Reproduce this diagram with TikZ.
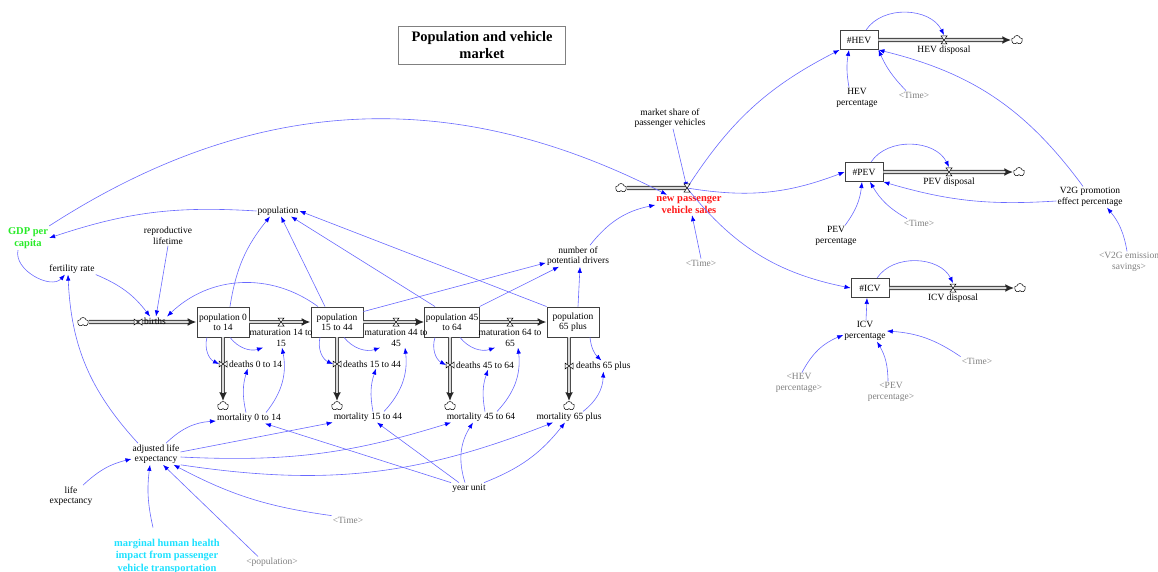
\documentclass[tikz,border=0pt]{standalone}
\usepackage{fontspec}
\setmainfont{Liberation Serif}
\usetikzlibrary{arrows.meta,shapes.symbols}

\definecolor{linkblue}{RGB}{105,105,255}
\definecolor{salesred}{RGB}{255,25,25}
\definecolor{gdpgreen}{RGB}{40,235,40}
\definecolor{healthcyan}{RGB}{30,225,255}

\tikzset{
  bowtie/.pic={\draw[fill=white,line width=0.5pt] (-4,-3) -- (4,3) -- (4,-3) -- (-4,3) -- cycle;},
  hourglass/.pic={\draw[fill=white,line width=0.5pt] (-3,-4) -- (3,4) -- (-3,4) -- (3,-4) -- cycle;}
}

\begin{document}
\begin{tikzpicture}[x=1pt,y=-1pt,>={Latex[length=6pt,width=4.5pt,color=blue]}]
        \tikzstyle{every node}=[font=\fontsize{9.5}{10.5}\selectfont]
        \tikzstyle{var}=[inner sep=1pt,align=center]
        \tikzstyle{shadowvar}=[var,text=gray]
        \tikzstyle{boldvar}=[var,font=\bfseries\fontsize{10.5}{12.5}\selectfont]
        \tikzstyle{stock}=[draw=black!75,line width=0.9pt,fill=white,minimum width=52pt,minimum height=30pt,inner sep=1pt,align=center]
        \tikzstyle{smallstock}=[stock,minimum width=38pt,minimum height=19pt]
        \tikzstyle{sinkcloud}=[cloud,cloud puffs=5,cloud puff arc=150,aspect=1.2,draw,fill=white,line width=0.5pt,inner sep=0pt,minimum width=11pt,minimum height=9pt]
        \tikzstyle{link}=[->,draw=linkblue,line width=0.6pt]
        \tikzstyle{pipe}=[line width=1.9pt,draw=gray!30,shorten >=8pt,preaction={draw=black!70,line width=4.2pt,shorten >=0pt,-{Latex[length=9pt,width=8pt,color=black!85]}}]
        \tikzstyle{pipeplain}=[line width=1.9pt,draw=gray!30,preaction={draw=black!70,line width=4.2pt}]
        \useasboundingbox (0,0) rectangle (1158,572);

        \node[draw=gray,line width=0.8pt,minimum width=167pt,minimum height=38pt,align=center,font=\bfseries\fontsize{14.5}{17}\selectfont] (title) at (482,45) {Population and vehicle\\market};

        % stocks
        \node[stock] (p014) at (223,322) {population 0\\to 14};
        \node[stock] (p1544) at (337,322) {population\\15 to 44};
        \node[stock] (p4564) at (452,322) {population 45\\to 64};
        \node[stock] (p65) at (573,322) {population\\65 plus};
        \node[smallstock] (hev) at (859,40) {\#HEV};
        \node[smallstock] (pev) at (864,172) {\#PEV};
        \node[smallstock] (icv) at (870,288) {\#ICV};

        % sources and sinks
        \node[sinkcloud] (sb) at (83,322) {};
        \node[sinkcloud] (s014) at (223,406) {};
        \node[sinkcloud] (s1544) at (337,406) {};
        \node[sinkcloud] (s4564) at (450,406) {};
        \node[sinkcloud] (s65) at (569,406) {};
        \node[sinkcloud] (sn) at (621,188) {};
        \node[sinkcloud] (sh) at (1017,40) {};
        \node[sinkcloud] (sp) at (1019,172) {};
        \node[sinkcloud] (si) at (1020,288) {};

        % valves
        \coordinate (vb) at (138,322);
        \coordinate (vm1) at (281,322);
        \coordinate (vm2) at (396,322);
        \coordinate (vm3) at (510,322);
        \coordinate (vd1) at (223,364);
        \coordinate (vd2) at (337,364);
        \coordinate (vd3) at (450,365);
        \coordinate (vd4) at (569,366);
        \coordinate (vn) at (687,188);
        \coordinate (vh) at (944,40);
        \coordinate (vp) at (949,172);
        \coordinate (vi) at (953,288);

        \draw[pipe] (sb) -- (p014);
        \draw[pipe] (p014) -- (p1544);
        \draw[pipe] (p1544) -- (p4564);
        \draw[pipe] (p4564) -- (p65);
        \draw[pipe] (p014) -- (s014);
        \draw[pipe] (p1544) -- (s1544);
        \draw[pipe] (s4564 |- p4564.south) -- (s4564);
        \draw[pipe] (s65 |- p65.south) -- (s65);
        \draw[pipeplain] (sn) -- (vn);
        \draw[pipe] (hev) -- (sh);
        \draw[pipe] (pev) -- (sp);
        \draw[pipe] (icv) -- (si);

        % flows
        \node[var,anchor=west] (births) at (143,321) {births};
        \node[var] (mat1) at (281,338) {maturation 14 to\\15};
        \node[var] (mat2) at (396,338) {maturation 44 to\\45};
        \node[var] (mat3) at (510,338) {maturation 64 to\\65};
        \node[var,anchor=west] (d1) at (228,364) {deaths 0 to 14};
        \node[var,anchor=west] (d2) at (342,364) {deaths 15 to 44};
        \node[var,anchor=west] (d3) at (455,365) {deaths 45 to 64};
        \node[var,anchor=west] (d4) at (575,366) {deaths 65 plus};
        \node[boldvar,text=salesred] (nps) at (689,205) {new passenger\\vehicle sales};
        \node[var] (hevd) at (944,50) {HEV disposal};
        \node[var] (pevd) at (949,182) {PEV disposal};
        \node[var] (icvd) at (953,298) {ICV disposal};

        % auxiliaries
        \node[var] (popall) at (278,211) {population};
        \node[boldvar,text=gdpgreen] (gdp) at (28,238) {GDP per\\capita};
        \node[var] (fert) at (72,269) {fertility rate};
        \node[var] (repro) at (168,236) {reproductive\\lifetime};
        \node[var] (npd) at (578,256) {number of\\potential drivers};
        \node[var] (share) at (670,118) {market share of\\passenger vehicles};
        \node[shadowvar] (timen) at (701,263) {\textless Time\textgreater};
        \node[var] (hevpc) at (857,98) {HEV\\percentage};
        \node[shadowvar] (timeh) at (914,95) {\textless Time\textgreater};
        \node[var] (pevpc) at (836,236) {PEV\\percentage};
        \node[shadowvar] (timep) at (919,223) {\textless Time\textgreater};
        \node[var] (v2g) at (1090,197) {V2G promotion\\effect percentage};
        \node[shadowvar] (v2gsav) at (1129,262) {\textless V2G emission\\savings\textgreater};
        \node[var] (icvpc) at (865,331) {ICV\\percentage};
        \node[shadowvar] (timei) at (977,361) {\textless Time\textgreater};
        \node[shadowvar] (hevpcs) at (799,383) {\textless HEV\\percentage\textgreater};
        \node[shadowvar] (pevpcs) at (891,392) {\textless PEV\\percentage\textgreater};
        \node[var] (m1) at (249,418) {mortality 0 to 14};
        \node[var] (m2) at (368,417) {mortality 15 to 44};
        \node[var] (m3) at (481,417) {mortality 45 to 64};
        \node[var] (m4) at (569,417) {mortality 65 plus};
        \node[var] (yu) at (469,488) {year unit};
        \node[var] (adj) at (156,454) {adjusted life\\expectancy};
        \node[var] (life) at (71,496) {life\\expectancy};
        \node[shadowvar] (timea) at (348,520) {\textless Time\textgreater};
        \node[boldvar,text=healthcyan] (marg) at (167,556) {marginal human health\\impact from passenger\\vehicle transportation};
        \node[shadowvar] (pops) at (272,562) {\textless population\textgreater};

        % links
        \draw[link] (gdp.north east) to[bend left=30] ([xshift=-22pt]nps.north);
        \draw[link] (popall.west) to[bend right=11] (gdp.east);
        \draw[link] ([xshift=-10pt]gdp.south) to[bend right=75] ([xshift=-7pt]fert.south);
        \draw[link] ([xshift=-18pt]adj.north) to[bend left=20] ([xshift=-4pt]fert.south);
        \draw[link] (fert.south east) to[bend left=15] ([xshift=-5pt]births.north);
        \draw[link] (repro.south) -- ([xshift=1pt]births.north);
        \draw[link] ([xshift=-19pt]p1544.north) to[bend right=40] (births.north east);
        \draw[link] ([xshift=7pt]p014.north) to[bend left=15] ([xshift=-8pt]popall.south);
        \draw[link] ([xshift=-12pt]p1544.north) -- ([xshift=3pt]popall.south);
        \draw[link] ([xshift=-17pt]p4564.north) -- ([xshift=13pt]popall.south);
        \draw[link] (p65.north west) -- (popall.east);
        \draw[link] ([yshift=-5pt]p1544.north east) -- ([yshift=4pt]npd.south west);
        \draw[link] (p4564.north east) -- ([xshift=-19pt]npd.south);
        \draw[link] ([xshift=5pt]p65.north) -- ([xshift=2pt]npd.south);
        \draw[link] ([xshift=12pt]npd.north) to[bend left=20] (nps.west);
        \draw[link] ([xshift=3pt]share.south) -- (vn);
        \draw[link] (timen.north) -- ([xshift=3pt]nps.south);
        \draw[link] (vn) to[bend left=15] (hev.south west);
        \draw[link] (vn) to[bend right=15] (pev.west);
        \draw[link] (vn) to[bend right=20] (icv.west);
        \draw[link] ([xshift=-7pt]v2g.north) to[bend right=20] (hev.south east);
        \draw[link] ([yshift=-4pt]v2g.west) to[bend left=10] (pev.south east);
        \draw[link] ([xshift=-2pt]v2gsav.north) to[bend right=15] ([xshift=17pt]v2g.south);
        \draw[link] ([xshift=-8pt]hevpc.north) to[bend left=10] ([xshift=-10pt]hev.south);
        \draw[link] ([xshift=-8pt]timeh.north) to[bend left=10] (hev.south east);
        \draw[link] ([xshift=7pt]hev.north) to[bend left=60] ([yshift=5pt]vh);
        \draw[link] ([xshift=9pt]pevpc.north) to[bend right=15] ([xshift=-2pt]pev.south);
        \draw[link] ([xshift=-12pt]timep.north) to[bend left=15] ([xshift=6pt]pev.south);
        \draw[link] ([xshift=7pt]pev.north) to[bend left=60] ([yshift=5pt]vp);
        \draw[link] ([xshift=1pt]icvpc.north) -- ([xshift=-3pt]icv.south);
        \draw[link] ([xshift=7pt]icv.north) to[bend left=60] ([yshift=5pt]vi);
        \draw[link] ([xshift=3pt]hevpcs.north) to[bend left=20] ([yshift=-4pt]icvpc.west);
        \draw[link] ([xshift=-3pt]pevpcs.north) to[bend right=15] ([xshift=12pt]icvpc.south);
        \draw[link] (timei.north west) to[bend right=15] (icvpc.east);
        \draw[link] ([xshift=-16pt]p014.south) to[bend right=40] ([xshift=-4pt]vd1);
        \draw[link] ([xshift=7pt]p014.south) to[bend right=35] ([xshift=-18pt]mat1.south);
        \draw[link] ([xshift=-3pt]m1.north) to[bend left=15] ([xshift=-8pt]d1.south);
        \draw[link] ([xshift=17pt]m1.north) to[bend right=25] ([xshift=1pt]mat1.south);
        \draw[link] ([xshift=-17pt]p1544.south) to[bend right=40] ([xshift=-4pt]vd2);
        \draw[link] ([xshift=7pt]p1544.south) to[bend right=35] ([xshift=-16pt]mat2.south);
        \draw[link] ([xshift=5pt]m2.north) to[bend left=15] ([xshift=4pt]d2.south);
        \draw[link] ([xshift=16pt]m2.north) to[bend right=25] ([xshift=9pt]mat2.south);
        \draw[link] ([xshift=-17pt]p4564.south) to[bend right=40] ([xshift=-4pt]vd3);
        \draw[link] ([xshift=8pt]p4564.south) to[bend right=35] ([xshift=-15pt]mat3.south);
        \draw[link] ([xshift=4pt]m3.north) to[bend left=15] ([xshift=3pt]d3.south);
        \draw[link] ([xshift=16pt]m3.north) to[bend right=25] ([xshift=8pt]mat3.south);
        \draw[link] ([xshift=17pt]p65.south) to[bend right=20] ([xshift=-2pt]d4.north);
        \draw[link] ([xshift=14pt]m4.north) to[bend right=25] (d4.south);
        \draw[link] ([xshift=10pt]adj.north) to[bend left=20] ([yshift=-3pt]m1.west);
        \draw[link] ([yshift=2pt]adj.east) -- (m2.south west);
        \draw[link] ([yshift=-3pt]adj.east) to[bend right=10] ([xshift=-30pt]m3.south);
        \draw[link] (adj.south east) to[bend right=15] ([xshift=-16pt]m4.south);
        \draw[link] (yu.north west) -- ([xshift=16pt]m1.south);
        \draw[link] ([xshift=-10pt]yu.north) -- ([xshift=9pt]m2.south);
        \draw[link] ([xshift=-4pt]yu.north) to[bend left=25] ([xshift=-8pt]m3.south);
        \draw[link] ([xshift=15pt]yu.north) to[bend right=15] ([xshift=-4pt]m4.south);
        \draw[link] ([xshift=12pt]life.north) to[bend left=15] ([yshift=-5pt]adj.west);
        \draw[link] ([xshift=-14pt,yshift=10pt]marg.north) to[bend left=10] ([xshift=-6pt]adj.south);
        \draw[link] ([xshift=-14pt]pops.north) -- ([xshift=7pt]adj.south);
        \draw[link] (timea.north west) to[bend left=10] ([xshift=-7pt]adj.south east);

        \pic at (vb) {bowtie};
        \pic at (vm1) {hourglass};
        \pic at (vm2) {hourglass};
        \pic at (vm3) {hourglass};
        \pic at (vd1) {bowtie};
        \pic at (vd2) {bowtie};
        \pic at (vd3) {bowtie};
        \pic at (vd4) {bowtie};
        \pic at (vn) {hourglass};
        \pic at (vh) {hourglass};
        \pic at (vp) {hourglass};
        \pic at (vi) {hourglass};
    \end{tikzpicture}
\end{document}
